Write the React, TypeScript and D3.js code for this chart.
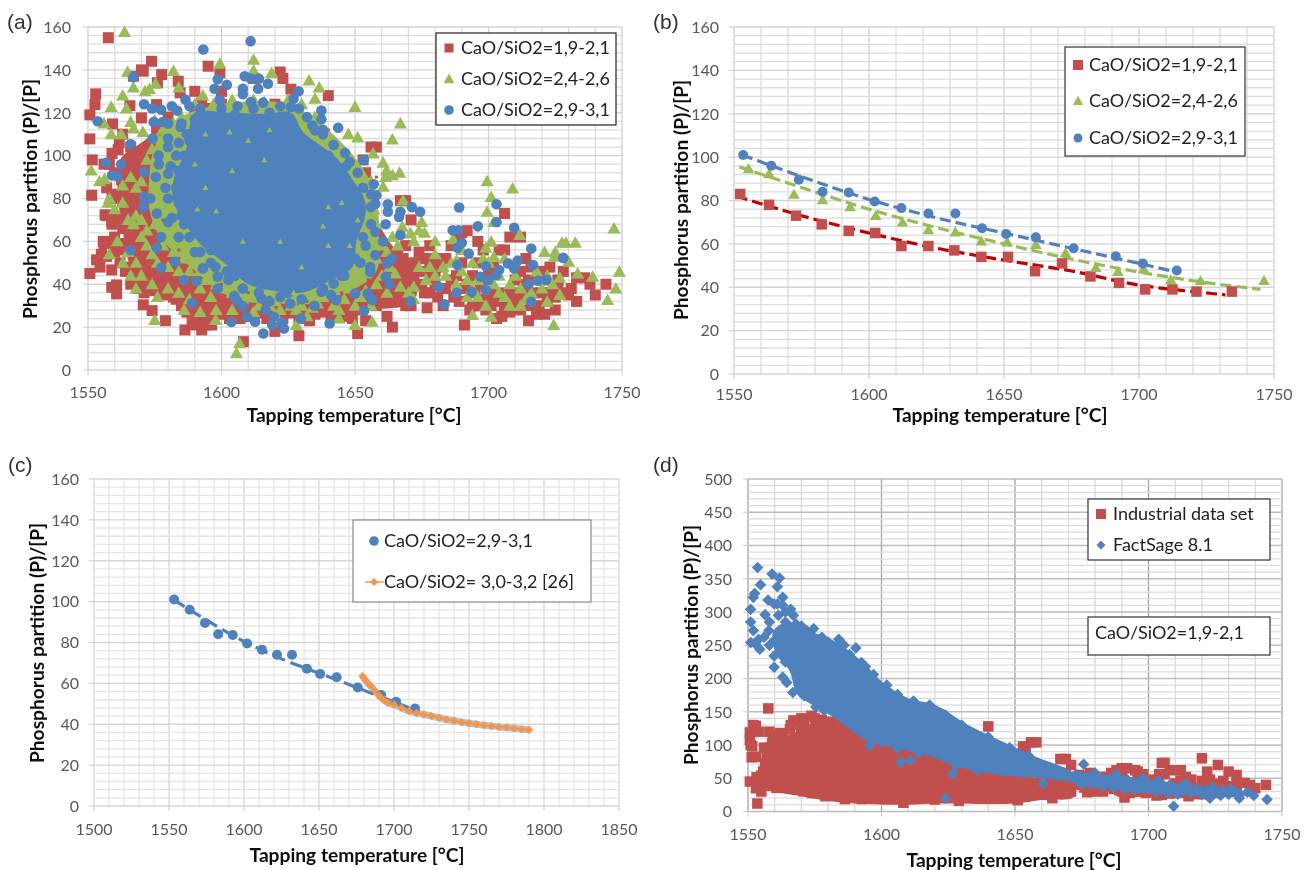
import React from "react";
import * as d3 from "d3";

type Pt = [number, number];

const seriesLabels = ["CaO/SiO2=1,9-2,1", "CaO/SiO2=2,4-2,6", "CaO/SiO2=2,9-3,1"];
const paperLabel = "CaO/SiO2= 3,0-3,2 [26]";
const dLabels = ["Industrial data set", "FactSage 8.1"];
const dNote = "CaO/SiO2=1,9-2,1";
const yTitle = "Phosphorus partition (P)/[P]";
const xTitle = "Tapping temperature [°C]";

// (a) individually readable red markers; also the industrial set in (d)
const redA: Pt[] = [
[1557.6,155],[1573.8,144],[1570.7,139.4],[1570,140],[1577.6,137.8],[1583.8,134.7],[1552.9,128.8],[1552.6,123.8],[1550.7,119],[1550.7,107.8],[1551.6,98],[1565.7,123.3],[1575.7,123.8],[1570,117.6],[1559.2,114.8],[1575.7,112],[1561.7,106],[1561.3,102.8],[1566.3,98],[1563.8,95],[1562.6,88.8],[1595,141.7],[1599.4,138.6],[1590,130],[1584.5,129.3],[1592.6,124.6],[1576,134],[1567,137],[1622,139],[1623,136],[1626,131],[1640,128],[1612,136],[1608,118],
[1558,96],[1560,92],[1563,92],[1565,90],[1568,87],[1570,92],[1572,95],[1574,98],[1576,104],[1578,101],[1566,104],[1568,98],[1561,82],[1563,79],[1566,81],[1568,78],[1571,80],[1573,83],[1575,76],[1578,88],[1580,92],[1583,96],[1585,104],[1582,112],[1580,118],[1587,116],[1590,120],[1593,118],[1596,122],[1600,124],[1604,122],[1607,120],[1610,118],[1615,122],[1620,124],[1600,130],
[1551.4,81.5],[1556.4,72.4],[1558.9,69.3],[1555.7,60],[1554.5,48],[1553.2,51.4],[1550.7,45],[1558.9,46.7],[1560.7,39.7],[1558.9,38.6],[1560.7,35.5],[1557,72],[1559,68],[1561,71],[1563,66],[1565,72],[1567,70],[1570,68],[1572,66],[1574,70],[1576,63],[1578,72],[1558,60],[1560,62],[1562,59],[1564,56],[1566,60],[1568,62],[1570,58],[1572,56],[1574,60],[1556,59],[1555,54],[1557,53],[1564,46],[1566,48],[1568,44],[1570,42],[1572,46],[1574,48],[1576,42],[1578,50],[1580,54],[1582,46],[1584,52],[1586,44],[1569,38],[1571,36],[1573,39],[1575,37],[1577,42],[1579,35],[1581,39],[1583,33],[1585,37],[1587,40],[1589,35],[1591,32],[1593,36],[1595,39],[1597,31],[1599,35],[1601,32],[1603,36],[1605,30],[1607,33],[1609,28],[1611,25],[1613,30],[1615,27],[1617,24],[1619,28],[1621,26],[1623,24],[1625,27],[1627,30],[1629,24],[1631,27],[1633,23],[1635,26],[1637,30],[1639,27],[1641,25],[1643,30],[1645,25],[1647,28],[1649,24],[1651,28],[1585,30],[1587,27],[1589,26],[1591,24],[1593,27],[1595,23],[1597,28],[1599,26],[1601,29],[1603,24],[1605,27],[1607,24],
[1586.3,18.7],[1592.6,18.7],[1590,22.6],[1596.3,21],[1594,21],[1589,21],[1608.2,13.2],[1620,18],[1629,16],[1651,17],[1654,23],[1664,20],[1662,25],[1579,23],[1574,27.7],[1570.7,30.4],
[1654,92],[1656,104],[1658,104],[1653,98],[1660,50],[1662,46],[1664,44],[1666,48],[1668,42],[1665,38],[1667,34],[1669,30],[1671,30],[1662,34],[1660,38],[1658,30],[1656,33],[1667,79],[1669,79],[1671,70],[1668,52],[1670,48],[1670,44],[1672,42],[1669,58],[1666,54],
[1674,55],[1676,52],[1678,58],[1678,44],[1680,40],[1678,36],[1677,29],[1681,34],[1683,30],[1675,40],[1682,48],[1684,52],[1686,58],[1688,62],[1690,64],[1692,65],[1687,34],[1689,32],[1691,21],[1693,28],[1695,30],[1697,30],[1699,33],[1701,36],[1703,24],[1705,25],[1706,28],[1708,27],[1710,31],[1692,40],[1694,44],[1696,50],[1696,60],[1698,56],[1700,44],[1702,48],[1704,56],[1706,56],[1706,73],[1708,62],[1712,62],[1710,42],[1712,46],[1714,52],[1716,48],[1714,36],[1716,30],[1715,23],[1718,26],[1721,26],[1720,36],[1722,32],[1720,46],[1723,48],[1725,28],[1726,42],[1728,46],[1730,35],[1733,32],[1731,38],[1733,43],[1736,43],[1738,40],[1740,35],[1744,40],[1728,36],[1726,38],[1694,30],[1699,28],[1712,28],[1708,36],[1684,38],[1686,42],[1690,50],
[1695,36],[1697,40],[1701,30],[1703,32],[1705,36],[1707,32],[1709,36],[1711,34],[1713,40],[1715,42],[1717,36],[1719,30],[1721,42],[1723,36],[1725,34],[1690,38],[1688,44],[1680,52],[1678,50],[1674,46],[1672,50],[1676,36],[1680,46],[1559,80],[1557,85],[1559,101],[1563,110],[1556,96],[1575,92],[1577,80],[1580,66],[1583,60],[1562,50],[1560,55],[1574,52],[1578,45],[1582,34],[1566,40],[1566,66],[1572,50]];

const greenA: Pt[] = [
[1563.7,157.6],[1564.8,139],[1567,131.7],[1563,128],[1571.4,130],[1573,131],[1575.3,133.5],[1582,139.4],[1584,131.7],[1558.7,122.7],[1564.4,122],[1556,115],[1558.7,110],[1562.4,110],[1566,115.7],[1567,112.6],[1570.6,111],[1575,116.5],[1551.2,93],[1554.3,88],[1556.2,89],[1557.5,78],[1599.4,142.8],[1612,144.7],[1612,139.7],[1618.8,138.5],[1632.8,135],[1636.6,131.7],[1635,126.5],[1630,124],[1650,122.7],[1647.5,110],[1651,108.4],[1667,115],[1664,107.5],[1656.8,101],[1660.5,96.7],[1661.8,93],[1661.5,90],[1664,90.8],[1666.7,92],[1660.5,85.4],[1699.5,88],[1709,84.6],[1701,80.7],[1699.5,73.8],[1702,69],[1747,66],[1711.7,63],[1727.5,59.3],[1732.5,59.3],[1729,59.3],[1721,55],[1725,55],[1724.7,52.8],[1730,50.5],[1733.4,45],[1739,43.5],[1749,45.8],[1747.7,38],[1744.6,32.6],[1724.4,21],[1726.7,43],[1726.7,35],[1722,31.8],[1699,30],[1701,24.8],[1694,25.6],[1667,38.8],[1672,38.8],[1676.6,42],[1680,54],[1675,69],[1674,65],[1670.8,63.7],[1667.7,66.8],[1668,79],[1686.7,61],[1688,51],[1699,57],[1701,59.8],[1702,52.8],[1605.6,7.8],[1606.8,12.4],[1628,21],[1650,21],[1656.4,22.5],[1575,23.3],[1597.8,23.3],
[1558,80],[1560,75],[1563,78],[1565,70],[1567,68],[1568,72],[1570,70],[1572,65],[1575,68],[1577,72],[1580,76],[1582,65],[1584,60],[1586,55],[1588,58],[1563,86],[1566,90],[1568,85],[1570,88],[1572,98],[1574,103],[1576,108],[1578,112],[1582,115],[1585,118],[1587,112],[1590,124],[1593,128],[1597,124],[1600,122],[1604,126],[1608,122],[1612,126],[1616,125],[1620,122],[1625,126],[1630,115],[1632,112],[1635,118],[1640,108],[1642,103],[1645,102],[1648,92],[1650,95],[1652,90],[1654,82],[1656,88],[1657,75],[1658,68],[1656,60],[1654,55],[1655,50],[1658,52],[1660,58],[1662,55],[1664,62],[1666,58],[1663,48],[1665,45],
[1570,62],[1572,58],[1574,54],[1576,50],[1578,58],[1580,48],[1582,55],[1584,46],[1586,52],[1588,46],[1590,50],[1592,46],[1594,42],[1596,44],[1598,40],[1600,44],[1602,38],[1604,36],[1606,40],[1608,33],[1610,34],[1612,36],[1614,30],[1616,34],[1618,30],[1620,32],[1622,28],[1624,34],[1626,30],[1628,28],[1630,30],[1632,33],[1634,29],[1636,31],[1638,34],[1640,36],[1642,30],[1644,28],[1646,33],[1648,38],[1650,30],[1652,34],[1654,37],[1656,30],[1658,40],[1660,44],[1662,36],[1580,38],[1584,36],[1588,33],[1592,38],[1596,34],[1576,34],[1570,44],[1568,50],[1565,55],[1563,50],[1561,60],[1558,54],[1568,38],[1566,44],[1574,40],[1586,28],[1592,27],[1598,28],[1604,28],[1612,27],[1620,26],[1632,25],[1644,24],
[1678,48],[1680,44],[1683,48],[1686,50],[1690,46],[1692,42],[1694,38],[1696,42],[1698,52],[1700,50],[1702,40],[1704,36],[1706,34],[1708,40],[1710,44],[1712,38],[1714,33],[1716,36],[1718,42],[1720,38],[1704,44],[1706,52],[1696,34],[1692,34],[1688,40],[1684,44],[1708,30],[1712,30],[1718,46],[1722,44],[1724,40],[1694,50],[1690,56],[1680,60],[1676,64],[1672,60],[1674,48],[1670,36],[1672,33]];

const blueA: Pt[] = [
[1593.2,149.5],[1610.9,153.4],[1567,136.6],[1608.7,137],[1611,136],[1614,135.9],[1598.6,135.6],[1602,133],[1617.4,133.5],[1597.4,131.2],[1608,131.2],[1608,128.6],[1613.7,131.2],[1628.9,130],[1599.3,126.2],[1586.5,126.2],[1611,125],[1615.6,124.7],[1627,126.5],[1626,122.7],[1571,124],[1574,122],[1577.4,121.4],[1581.4,123],[1583.4,121],[1588,123],[1637.4,121],[1637.4,117],[1553.6,116],[1574.6,115.7],[1578,115.7],[1580,115],[1584.7,113.4],[1643.7,113],[1635,111.8],[1638,110],[1574.2,108],[1580,108],[1566,105.3],[1580,104],[1584,106],[1588,107],[1576.5,100],[1556.7,96.7],[1562.4,96],[1646.3,101.2],[1653.3,98],[1646.7,95],[1576.5,96],[1571,92.4],[1575.4,90],[1580,91.6],[1559,90.8],[1561,90.4],[1584,93],[1657,86.6],[1658,81.5],[1653,85],[1571,80.7],[1573.3,80],[1570.7,76],[1575.8,73],[1580,80],[1580,69],[1581.5,71],[1657.6,77.6],[1662.3,77.3],[1662.3,73.8],[1671.3,76],[1674.4,73.8],[1667,73.8],[1666.5,71.4],[1661.5,68],[1657.6,64.4],[1667,63],[1660.5,60],[1657.6,53.6],[1663.8,52],[1662,49.7],[1655.7,48],[1655.7,45.8],[1661.5,43.5],[1663,40],[1650,35.7],[1654.8,35.7],[1656.5,32.6],[1653.4,27.6],[1670.8,32],[1683.5,30.7],[1681.4,38.8],[1688,36],[1689,75.8],[1686.6,65.2],[1688.7,65.2],[1690,59.3],[1688.4,57],[1692.6,54.3],[1688.4,49],[1696,67],[1703,77.3],[1703,69],[1709.6,66.3],[1716,56.7],[1728,52.3],[1710.9,51],[1707.3,49.7],[1709.6,47.4],[1704,46.6],[1699,48.4],[1716.7,49],[1697,43.5],[1700,42],[1703,44.3],[1699,37.3],[1693.7,36.5],[1715,40],[1718.5,41.6],[1721.6,42.2],[1716,31.8],
[1566,56],[1577.4,47.7],[1575.8,57],[1577.4,62],[1582.6,50.5],[1586,42],[1590.7,41.5],[1589,31.4],[1593,47.4],[1597.8,48],[1598.6,43.5],[1598.6,38],[1602.6,42],[1604.8,34.5],[1606,32],[1608,29.8],[1615,33.4],[1616.5,28],[1618,32],[1609.5,24.8],[1603.7,22.4],[1612.6,22.5],[1615.7,17],[1619.6,24.8],[1619,21],[1623.4,19.4],[1622.6,22],[1629.7,24],[1640.5,21.7],[1634.8,30],[1637.4,36.5],[1641,35],[1643,32.6],[1642,40.4],[1625.7,31],[1586,100],[1586,88],[1584,78],[1584,62],[1590,55],[1645,44],[1650,52],[1653,62],[1594,113],[1598,118],[1606,123],[1618,120],[1622,123],
[1585,115],[1583,100],[1581,95],[1583,85],[1579,85],[1585,72],[1588,62],[1592,55],[1596,50],[1602,46],[1608,38],[1614,36],[1622,34],[1630,33],[1638,38],[1646,44],[1652,50],[1654,58],[1656,68],[1656,76],[1656,82],[1651,92],[1648,97],[1642,105],[1638,112],[1632,118],[1629,122],[1600,122],[1592,122],[1612,122],[1596,118],[1590,117],[1587,110],[1587,82],[1586,68],[1605,119],[1634,114],[1640,100],[1648,84],[1650,70],[1648,54],[1636,42],[1625,36],[1605,44],[1596,56]];

// saturated masses of overlapping markers in (a): outlines
const redCoreA: Pt[] = [[1562,98],[1570,106],[1582,114],[1620,114],[1650,90],[1658,70],[1664,58],[1672,48],[1672,32],[1655,28],[1640,25],[1620,24],[1600,24],[1590,23],[1583,32],[1573,36],[1566,48],[1563,65],[1561,85]];
const greenCoreA: Pt[] = [[1582,116],[1600,124],[1625,124],[1636,116],[1645,106],[1653,94],[1658,80],[1659,62],[1658,46],[1650,38],[1635,32],[1620,31],[1605,33],[1595,41],[1585,52],[1577,62],[1573,75],[1573,90],[1575,104]];
const blueCoreA: Pt[] = [[1590,120],[1604,120],[1616.5,119.5],[1626,120],[1630.5,111],[1636.8,105],[1643,99],[1649,89],[1653.7,79],[1653.7,71],[1650.6,60.5],[1649,48],[1641,42],[1630,36],[1619.6,37],[1610,40],[1601,50],[1593,57.5],[1587,67],[1582,79],[1582,88.5],[1587,104],[1588,113]];
// slivers of green visible through the blue mass
const greenGapsA: Pt[] = [[1604,93],[1616,98],[1594,85],[1630,48],[1627,36],[1603,111],[1594,110],[1640,76],[1645,78],[1638,67],[1651,70],[1648,58],[1608,60],[1598,74],[1591,75],[1590,96],[1618,112],[1610,107],[1622,60],[1640,58]];
// flecks of red visible through the green mass
const redFlecksA: Pt[] = [[1578,70],[1584,56],[1592,48],[1600,40],[1610,36],[1618,34],[1632,32],[1645,36],[1655,42],[1572,88],[1576,100],[1657,64],[1658,90],[1640,112]];

const redTrend: Pt[] = [[1551,82],[1575,73],[1600,65],[1625,58],[1650,52.5],[1675,47.5],[1700,41],[1720,38],[1732,36.5]];
const greenTrend: Pt[] = [[1552,95.5],[1575,86],[1600,76],[1625,67.5],[1650,60],[1675,53],[1700,47],[1720,43],[1745,39]];
const blueTrend: Pt[] = [[1553,101],[1575,91],[1600,80.5],[1625,72],[1650,65],[1675,58],[1700,51],[1714,47]];
const redB: Pt[] = [[1552.3,83],[1563,78],[1573,73],[1582.5,69],[1592.5,66],[1602.3,65],[1612,59],[1622,59],[1631.6,57],[1641.6,54],[1651.5,54],[1661.5,47.4],[1671.5,51],[1682,45],[1692.6,42],[1702.3,39],[1712.4,39],[1721.3,38],[1734.4,38]];
const greenB: Pt[] = [[1555.4,94.6],[1563,92.3],[1572.2,82.8],[1582.8,80.3],[1593,77],[1602.5,73],[1612.4,70],[1622,66.5],[1632,65.4],[1641.6,61.2],[1651.2,60.8],[1661.8,59.7],[1672.8,55.8],[1684,49],[1692.2,47.2],[1701.7,48.5],[1711.8,43.4],[1722.8,43],[1746.3,43]];
const blueB: Pt[] = [[1553.4,101],[1563.8,96],[1574,89.6],[1582.8,84],[1592.5,83.7],[1602.1,79.5],[1612,76.5],[1622,74],[1632,74],[1641.9,67.2],[1650.8,64.6],[1661.8,63],[1675.8,58],[1691.4,54.3],[1701.4,51],[1714,47.7]];

const orangeC: Pt[] = [[1679,63.5],[1681,61.5],[1684,59],[1687,56.5],[1690,54],[1693,52],[1696,50.5],[1700,49.6],[1705,48],[1710,46.5],[1715,45.5],[1720,44.8],[1725,44],[1730,43.2],[1735,42.4],[1740,41.7],[1745,41],[1750,40.5],[1755,40],[1760,39.5],[1765,39.1],[1770,38.7],[1775,38.4],[1780,38],[1785,37.6],[1790,37.3]];

// saturated masses in (d): outlines
const redCoreD: Pt[] = [[1558,112],[1564,113],[1574,133],[1583,138],[1594,112],[1606.5,97],[1622,80],[1631,66],[1645,60],[1661,50],[1672,55],[1672,22],[1661,18],[1650,12],[1622,12],[1607,10],[1586,13],[1570,23],[1557.6,33],[1551,48],[1558,77]];
const blueCoreD: Pt[] = [[1565,283],[1574,268],[1582.6,253],[1592.6,223],[1600,193],[1610,168],[1620,158],[1631.3,130],[1644,105],[1657.8,80],[1670,60],[1672,49],[1660.9,52],[1640.7,59],[1626.7,72],[1620,83],[1605,98],[1595,108],[1582.6,143],[1574,163],[1568.8,178],[1566,213],[1561,238],[1560,270]];
const blueTailD: Pt[] = [[1670,58],[1685,55],[1700,48],[1720,38],[1735,33],[1735,24],[1720,24],[1700,27],[1685,34],[1672,42]];
const redExtraD: Pt[] = [[1553.5,12],[1558,120],[1552,130],[1554,120],[1551,100],[1553,82],[1555,30],[1553,35],[1560,115],[1566,130],[1571,135],[1575,140],[1580,135],[1586,140],[1592,130],[1570,125],[1562,118],[1680,30],[1690,30],[1720,80],[1726,70],[1705,73],[1695,62],[1690,65],[1730,60],[1733,55],[1722,60],[1712,62]];
const blueD: Pt[] = [
[1553.6,367],[1559,357],[1561.8,351],[1554.7,341],[1561,338],[1552.5,328],[1552,322],[1563,322],[1551,304],[1557.5,318],[1561,312],[1559.8,312],[1566,304],[1556.4,296],[1561.4,295],[1551,285],[1552,272],[1557.8,272],[1551,254],[1554,259],[1552.8,252],[1554.4,244],[1570,279],[1574.6,275],[1577.7,262],[1584,259],[1590.4,246],[1592.5,224],[1559.8,234],[1559.8,217],[1563,202],[1564.5,194],[1566.8,179],[1571,174],[1575.4,157],[1578.5,152],[1595.6,99],[1607.2,74],[1610.8,77],[1626.7,57],[1624,20],[1660.6,42],[1675.7,71],
[1709.4,8],[1744.4,18],[1739.4,24],[1737,29],[1734,20],[1723,20],[1564,300],[1567,295],[1562,270],[1565,262],[1568,268],[1560,258],[1563,245],[1566,240],[1564,225],[1570,250],[1573,240],[1572,220],[1568,210],[1558,250],[1556,262],[1558,285],[1564,285],[1563,310],[1568,282],[1572,272],[1580,255],[1586,250],[1588,236],[1594,218],[1597,206],[1602,190],[1606,176],[1612,166],[1618,160],[1576,170],[1580,160],[1584,145],[1590,130],[1600,105],[1606,95],[1614,88],[1628,70],[1636,62],[1646,60],[1652,58],[1655,84],[1648,96],[1640,112],[1630,130],[1624,145],
[1673,55],[1676,48],[1678,52],[1680,58],[1682,48],[1684,44],[1686,50],[1688,56],[1690,42],[1692,48],[1694,38],[1696,44],[1698,50],[1700,36],[1702,42],[1704,46],[1706,34],[1708,40],[1710,30],[1712,36],[1714,42],[1716,28],[1718,34],[1720,26],[1722,32],[1724,36],[1726,28],[1728,32],[1730,26],[1732,30],[1734,24],[1675,42],[1679,42],[1683,38],[1687,36],[1691,34],[1695,32],[1699,44],[1703,30],[1707,28],[1711,26],[1715,34],[1719,30],[1723,28],[1727,24],[1731,34]];

const F = "Lato, 'Open Sans', sans-serif";
const RED = "#c0504d";
const GREEN = "#9bbb59";
const BLUE = "#4f81bd";
const ORANGE = "#f79646";

type Box = { x0: number; x1: number; yTop: number; yBottom: number; xMin: number; xMax: number; yMax: number; yMajor: number; yMinor: number; xLabelY: number; xTitleY: number; xTitleX: number; yTitleX: number; yTitleY: number; yLabelX: number; };

const closed = (x: d3.ScaleLinear<number, number>, y: d3.ScaleLinear<number, number>) =>
  d3.line<Pt>().x((d) => x(d[0])).y((d) => y(d[1])).curve(d3.curveCatmullRomClosed);
const open = (x: d3.ScaleLinear<number, number>, y: d3.ScaleLinear<number, number>) =>
  d3.line<Pt>().x((d) => x(d[0])).y((d) => y(d[1])).curve(d3.curveMonotoneX);

function Frame({ b, label, labelY, vMajorColor, hMajorColor, hMinorColor, vMinorColor, children }: any) {
  const x = d3.scaleLinear().domain([b.xMin, b.xMax]).range([b.x0, b.x1]);
  const y = d3.scaleLinear().domain([0, b.yMax]).range([b.yBottom, b.yTop]);
  const hMinor = d3.range(0, b.yMax + 0.01, b.yMinor);
  const vAll = d3.range(b.xMin, b.xMax + 0.01, 10);
  const xMajors = d3.range(b.xMin, b.xMax + 0.01, 50);
  const yMajors = d3.range(0, b.yMax + 0.01, b.yMajor);
  return (
    <g>
      {vAll.map((t: number) => (
        <line key={"v" + t} x1={x(t)} x2={x(t)} y1={b.yTop} y2={b.yBottom} stroke={t % 50 === 0 ? vMajorColor : vMinorColor} strokeWidth={1.3} />
      ))}
      {hMinor.map((v: number) => (
        <line key={"h" + v} x1={b.x0} x2={b.x1} y1={y(v)} y2={y(v)} stroke={v % b.yMajor === 0 ? hMajorColor : hMinorColor} strokeWidth={1.3} />
      ))}
      {yMajors.map((v: number) => (
        <line key={"yt" + v} x1={b.x0 - 5} x2={b.x0} y1={y(v)} y2={y(v)} stroke="#d0d0d0" strokeWidth={1.2} />
      ))}
      {xMajors.map((t: number) => (
        <line key={"xt" + t} x1={x(t)} x2={x(t)} y1={b.yBottom} y2={b.yBottom + 5} stroke="#d0d0d0" strokeWidth={1.2} />
      ))}
      {children(x, y)}
      {yMajors.map((v: number) => (
        <text key={"yl" + v} x={b.yLabelX} y={y(v)} dy="0.36em" textAnchor="end" fontFamily={F} fontSize={16} fill="#595959">{v}</text>
      ))}
      {xMajors.map((t: number) => (
        <text key={"xl" + t} x={x(t)} y={b.xLabelY} dy="0.36em" textAnchor="middle" fontFamily={F} fontSize={16} fill="#595959">{t}</text>
      ))}
      <text x={b.xTitleX} y={b.xTitleY} dy="0.36em" textAnchor="middle" fontFamily={F} fontWeight={700} fontSize={19.2} fill="#111">{xTitle}</text>
      <text transform={`translate(${b.yTitleX},${b.yTitleY}) rotate(-90)`} dy="0.36em" textAnchor="middle" fontFamily={F} fontWeight={700} fontSize={19.2} fill="#111">{yTitle}</text>
      <text x={label[0]} y={labelY} fontFamily="'Liberation Sans', sans-serif" fontSize={21} fill="#333">{label[1]}</text>
    </g>
  );
}

const Square = ({ cx, cy, s = 11, fill = RED }: any) => <rect x={cx - s / 2} y={cy - s / 2} width={s} height={s} fill={fill} />;
const Tri = ({ cx, cy, s = 6.6, fill = GREEN }: any) => <path d={`M${cx},${cy - s}L${cx + s},${cy + s * 0.75}L${cx - s},${cy + s * 0.75}Z`} fill={fill} />;
const Dot = ({ cx, cy, r = 5.3, fill = BLUE }: any) => <circle cx={cx} cy={cy} r={r} fill={fill} />;
const Dia = ({ cx, cy, s = 6, fill = BLUE }: any) => <path d={`M${cx},${cy - s}L${cx + s},${cy}L${cx},${cy + s}L${cx - s},${cy}Z`} fill={fill} />;

function Legend({ box, rows, stroke }: any) {
  return (
    <g>
      <rect x={box[0]} y={box[1]} width={box[2]} height={box[3]} fill="#fff" stroke={stroke} strokeWidth={1.2} />
      {rows.map((r: any, i: number) => (
        <g key={i}>
          {r.mark}
          <text x={r.x} y={r.y} dy="0.36em" fontFamily={F} fontSize={r.fs ?? 18} fill="#222">{r.text}</text>
        </g>
      ))}
    </g>
  );
}

const boxA: Box = { x0: 88, x1: 622, yTop: 27, yBottom: 370, xMin: 1550, xMax: 1750, yMax: 160, yMajor: 20, yMinor: 4, xLabelY: 392, xTitleY: 415, xTitleX: 354, yTitleX: 30, yTitleY: 199, yLabelX: 71 };
const boxB: Box = { x0: 734, x1: 1274, yTop: 27, yBottom: 374, xMin: 1550, xMax: 1750, yMax: 160, yMajor: 20, yMinor: 4, xLabelY: 394, xTitleY: 415, xTitleX: 1000, yTitleX: 681, yTitleY: 200, yLabelX: 719 };
const boxC: Box = { x0: 94, x1: 619, yTop: 479, yBottom: 806, xMin: 1500, xMax: 1850, yMax: 160, yMajor: 20, yMinor: 4, xLabelY: 829, xTitleY: 855, xTitleX: 357, yTitleX: 37, yTitleY: 643, yLabelX: 79 };
const boxD: Box = { x0: 748, x1: 1282, yTop: 479, yBottom: 811.5, xMin: 1550, xMax: 1750, yMax: 500, yMajor: 50, yMinor: 10, xLabelY: 834, xTitleY: 860, xTitleX: 1014, yTitleX: 691, yTitleY: 645, yLabelX: 732 };

export default function App() {
  return (
    <svg width={1309} height={870} style={{ position: "absolute", left: 0, top: 0, background: "#fff" }}>
      <defs>
        <filter id="soft" x="-2%" y="-2%" width="104%" height="104%">
          <feGaussianBlur stdDeviation="0.45" />
        </filter>
      </defs>
      <g filter="url(#soft)">
        <rect width={1309} height={870} fill="#fff" />
        <Frame b={boxA} label={[7, "(a)"]} labelY={29} vMajorColor="#cfcfcf" vMinorColor="#dcdcdc" hMajorColor="#d4d4d4" hMinorColor="#dcdcdc">
          {(x: any, y: any) => (
            <g>
              <path d={closed(x, y)(redCoreA) as string} fill={RED} />
              {redA.map((d, i) => <Square key={i} cx={x(d[0])} cy={y(d[1])} />)}
              <path d={closed(x, y)(greenCoreA) as string} fill={GREEN} />
              {greenA.map((d, i) => <Tri key={i} cx={x(d[0])} cy={y(d[1])} />)}
              {redFlecksA.map((d, i) => <Square key={i} cx={x(d[0])} cy={y(d[1])} s={3} />)}
              <path d={closed(x, y)(blueCoreA) as string} fill={BLUE} />
              {blueA.map((d, i) => <Dot key={i} cx={x(d[0])} cy={y(d[1])} />)}
              {greenGapsA.map((d, i) => <Tri key={i} cx={x(d[0])} cy={y(d[1])} s={3} />)}
              <Legend box={[436, 33, 180, 92]} stroke="#222" rows={[
                { x: 461, y: 48, text: seriesLabels[0], mark: <Square cx={449} cy={48} s={9} /> },
                { x: 461, y: 79, text: seriesLabels[1], mark: <Tri cx={449} cy={79} s={5.5} /> },
                { x: 461, y: 110, text: seriesLabels[2], mark: <Dot cx={449} cy={110} r={4.8} /> },
              ]} />
            </g>
          )}
        </Frame>
        <Frame b={boxB} label={[653, "(b)"]} labelY={29} vMajorColor="#cfcfcf" vMinorColor="#dcdcdc" hMajorColor="#d4d4d4" hMinorColor="#dcdcdc">
          {(x: any, y: any) => (
            <g>
              <path d={open(x, y)(redTrend) as string} fill="none" stroke="#c00000" strokeWidth={3.2} strokeDasharray="11 5" />
              <path d={open(x, y)(greenTrend) as string} fill="none" stroke={GREEN} strokeWidth={3.2} strokeDasharray="11 5" />
              <path d={open(x, y)(blueTrend) as string} fill="none" stroke={BLUE} strokeWidth={3.2} strokeDasharray="11 5" />
              {redB.map((d, i) => <Square key={i} cx={x(d[0])} cy={y(d[1])} s={10.5} />)}
              {greenB.map((d, i) => <Tri key={i} cx={x(d[0])} cy={y(d[1])} s={5.8} />)}
              {blueB.map((d, i) => <Dot key={i} cx={x(d[0])} cy={y(d[1])} r={5} />)}
              <Legend box={[1065, 47, 180, 109]} stroke="#333" rows={[
                { x: 1089, y: 65, text: seriesLabels[0], mark: <Square cx={1078} cy={65} s={10} /> },
                { x: 1089, y: 101, text: seriesLabels[1], mark: <Tri cx={1078} cy={101} s={5.2} /> },
                { x: 1089, y: 138, text: seriesLabels[2], mark: <Dot cx={1078} cy={138} r={4.5} /> },
              ]} />
            </g>
          )}
        </Frame>
        <Frame b={boxC} label={[8, "(c)"]} labelY={472} vMajorColor="#d6d6d6" vMinorColor="#e6e6e6" hMajorColor="#d6d6d6" hMinorColor="#e6e6e6">
          {(x: any, y: any) => (
            <g>
              <path d={open(x, y)(orangeC) as string} fill="none" stroke="#a9c4e4" strokeWidth={7} />
              <path d={open(x, y)(blueTrend) as string} fill="none" stroke={BLUE} strokeWidth={3.2} strokeDasharray="13 6" />
              {blueB.map((d, i) => <Dot key={i} cx={x(d[0])} cy={y(d[1])} r={5} />)}
              <path d={open(x, y)(orangeC) as string} fill="none" stroke={ORANGE} strokeWidth={1.5} />
              {orangeC.map((d, i) => <Dia key={i} cx={x(d[0])} cy={y(d[1])} s={4.2} fill={ORANGE} />)}
              <Legend box={[353, 520, 238, 82]} stroke="#8c8c8c" rows={[
                { x: 384, y: 541, text: seriesLabels[2], mark: <Dot cx={374} cy={541} r={4.8} /> },
                { x: 384, y: 582, text: paperLabel, mark: <g><line x1={365} x2={384} y1={582} y2={582} stroke={ORANGE} strokeWidth={1.5} /><Dia cx={374} cy={582} s={4} fill={ORANGE} /></g> },
              ]} />
            </g>
          )}
        </Frame>
        <Frame b={boxD} label={[653, "(d)"]} labelY={472} vMajorColor="#a3a3a3" vMinorColor="#dadada" hMajorColor="#bdbdbd" hMinorColor="#dcdcdc">
          {(x: any, y: any) => (
            <g>
              <path d={closed(x, y)(redCoreD) as string} fill={RED} />
              {redA.map((d, i) => <Square key={i} cx={x(d[0])} cy={y(d[1])} s={10.5} />)}
              {redExtraD.map((d, i) => <Square key={i} cx={x(d[0])} cy={y(d[1])} s={10.5} />)}
              <path d={closed(x, y)(blueCoreD) as string} fill={BLUE} stroke={BLUE} strokeWidth={3} strokeLinejoin="round" />
              <path d={closed(x, y)(blueTailD) as string} fill={BLUE} />
              {blueD.map((d, i) => <Dia key={i} cx={x(d[0])} cy={y(d[1])} s={5.8} />)}
              <Legend box={[1088, 499, 182, 61]} stroke="#333" rows={[
                { x: 1113, y: 514, text: dLabels[0], mark: <Square cx={1101} cy={514} s={10} /> },
                { x: 1113, y: 545, text: dLabels[1], mark: <Dia cx={1101} cy={545} s={4.5} /> },
              ]} />
              <Legend box={[1088, 617, 182, 38]} stroke="#333" rows={[
                { x: 1095, y: 633, text: dNote, mark: null, fs: 18 },
              ]} />
            </g>
          )}
        </Frame>
      </g>
    </svg>
  );
}
